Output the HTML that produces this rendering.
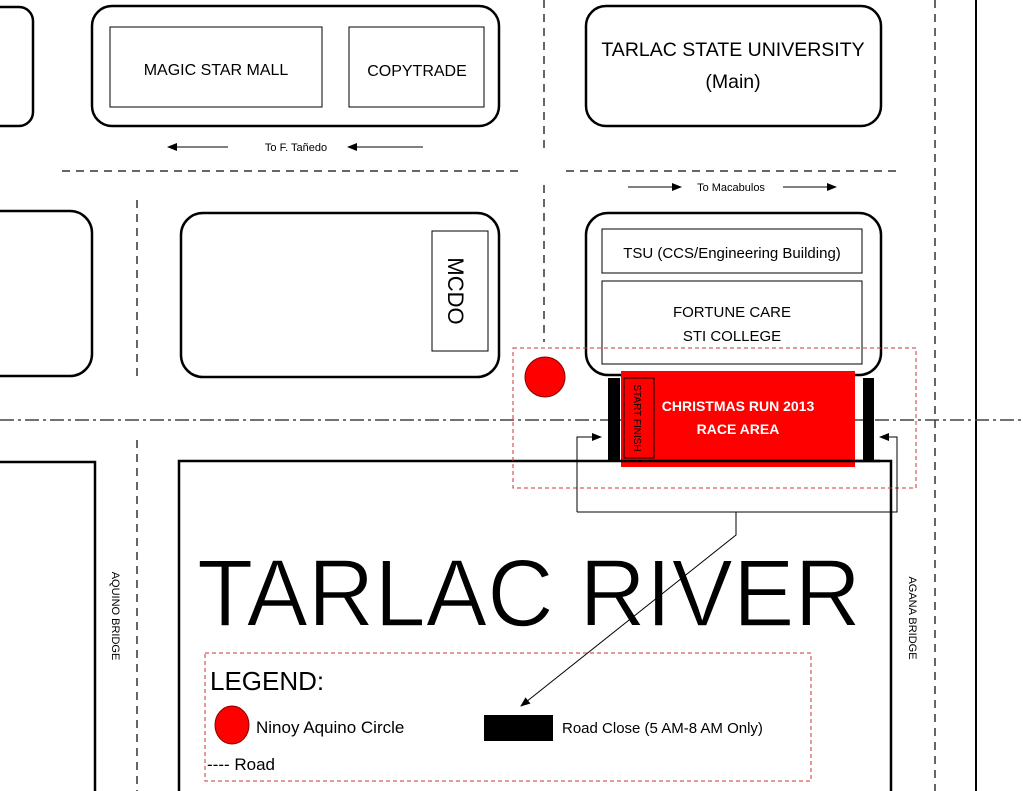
<!DOCTYPE html>
<html><head><meta charset="utf-8"><style>
html,body{margin:0;padding:0;background:#fff;}
svg{display:block;}
text{font-family:"Liberation Sans",sans-serif;}
</style></head><body>
<svg width="1024" height="791" viewBox="0 0 1024 791" xmlns="http://www.w3.org/2000/svg">
<defs>
<marker id="ah" markerWidth="10" markerHeight="8" refX="9" refY="4" orient="auto" markerUnits="userSpaceOnUse"><path d="M0,0 L10,4 L0,8 z" fill="#000"/></marker>
</defs>
<rect width="1024" height="791" fill="#fff"/>
<g stroke="#333" stroke-width="1.5" stroke-dasharray="8,6" fill="none">
<line x1="544" y1="0" x2="544" y2="152"/>
<line x1="544" y1="185" x2="544" y2="342"/>
<line x1="62" y1="171" x2="520" y2="171"/>
<line x1="566" y1="171" x2="902" y2="171"/>
<line x1="137" y1="200" x2="137" y2="380"/>
<line x1="137" y1="440" x2="137" y2="791"/>
<line x1="935" y1="0" x2="935" y2="791"/>
</g>
<line x1="976" y1="0" x2="976" y2="791" stroke="#000" stroke-width="2"/>
<line x1="0" y1="420" x2="1024" y2="420" stroke="#444" stroke-width="1.5" stroke-dasharray="14,4,3,4"/>
<g stroke="#000" stroke-width="2.5" fill="none">
<rect x="-20" y="7" width="53" height="119" rx="14"/>
<rect x="92" y="6" width="407" height="120" rx="20"/>
<rect x="586" y="6" width="295" height="120" rx="20"/>
<rect x="-30" y="211" width="122" height="165" rx="22"/>
<rect x="181" y="213" width="318" height="164" rx="22"/>
<rect x="586" y="213" width="295" height="162" rx="22"/>
</g>
<g stroke="#000" stroke-width="1" fill="none">
<rect x="110" y="27" width="212" height="80"/>
<rect x="349" y="27" width="135" height="80"/>
<rect x="432" y="231" width="56" height="120"/>
<rect x="602" y="229" width="260" height="44"/>
<rect x="602" y="281" width="260" height="83"/>
</g>
<text x="216" y="75" font-size="16" text-anchor="middle">MAGIC STAR MALL</text>
<text x="417" y="76" font-size="16" text-anchor="middle">COPYTRADE</text>
<text x="733" y="56" font-size="19.5" text-anchor="middle">TARLAC STATE UNIVERSITY</text>
<text x="733" y="88" font-size="19.5" text-anchor="middle">(Main)</text>
<text transform="translate(448,291) rotate(90)" font-size="22" text-anchor="middle">MCDO</text>
<text x="732" y="258" font-size="15" text-anchor="middle">TSU (CCS/Engineering Building)</text>
<text x="732" y="317" font-size="15" text-anchor="middle">FORTUNE CARE</text>
<text x="732" y="341" font-size="15" text-anchor="middle">STI COLLEGE</text>
<g stroke="#000" stroke-width="1" marker-end="url(#ah)">
<line x1="228" y1="147" x2="168" y2="147"/>
<line x1="423" y1="147" x2="348" y2="147"/>
<line x1="628" y1="187" x2="681" y2="187"/>
<line x1="783" y1="187" x2="836" y2="187"/>
</g>
<text x="296" y="151" font-size="11" text-anchor="middle">To F. Tañedo</text>
<text x="731" y="191" font-size="11" text-anchor="middle">To Macabulos</text>
<g stroke="#000" stroke-width="2.5" fill="none">
<path d="M0,462 H95 V791"/>
<path d="M179,791 V461 H891 V791"/>
</g>
<rect x="513" y="348" width="403" height="140" fill="none" stroke="#c33" stroke-width="1" stroke-dasharray="4,3"/>
<circle cx="545" cy="377" r="20" fill="#f00" stroke="#800" stroke-width="1"/>
<rect x="621" y="371" width="234" height="96" fill="#f00"/>
<line x1="621" y1="461" x2="880" y2="461" stroke="#000" stroke-width="2.5"/>
<rect x="608" y="378" width="12" height="82" fill="#000"/>
<rect x="863" y="378" width="11" height="82" fill="#000"/>
<rect x="624" y="378" width="30" height="80" fill="none" stroke="#000" stroke-width="1"/>
<text transform="translate(634,418) rotate(90)" font-size="10" text-anchor="middle">START FINISH</text>
<text x="738" y="411" font-size="14" font-weight="bold" fill="#fff" text-anchor="middle">CHRISTMAS RUN 2013</text>
<text x="738" y="434" font-size="14" font-weight="bold" fill="#fff" text-anchor="middle">RACE AREA</text>
<g stroke="#000" stroke-width="1" fill="none">
<path d="M577,512 V437 H601" marker-end="url(#ah)"/>
<path d="M577,512 H897 V437 H880" marker-end="url(#ah)"/>
</g>
<text x="197" y="626" font-size="96" textLength="664" lengthAdjust="spacingAndGlyphs" stroke="#fff" stroke-width="1.5" paint-order="normal">TARLAC RIVER</text>
<path d="M736,512 V535 L521,706" stroke="#000" stroke-width="1" fill="none" marker-end="url(#ah)"/>
<text transform="translate(112,616) rotate(90)" font-size="11" text-anchor="middle">AQUINO BRIDGE</text>
<text transform="translate(909,618) rotate(90)" font-size="11" text-anchor="middle">AGANA BRIDGE</text>
<rect x="205" y="653" width="606" height="128" fill="none" stroke="#c33" stroke-width="1" stroke-dasharray="4,3"/>
<text x="210" y="690" font-size="26">LEGEND:</text>
<ellipse cx="232" cy="725" rx="17" ry="19" fill="#f00" stroke="#800" stroke-width="1"/>
<text x="256" y="733" font-size="17">Ninoy Aquino Circle</text>
<rect x="484" y="715" width="69" height="26" fill="#000"/>
<text x="562" y="733" font-size="15">Road Close (5 AM-8 AM Only)</text>
<text x="207" y="770" font-size="17">---- Road</text>
</svg>
</body></html>
